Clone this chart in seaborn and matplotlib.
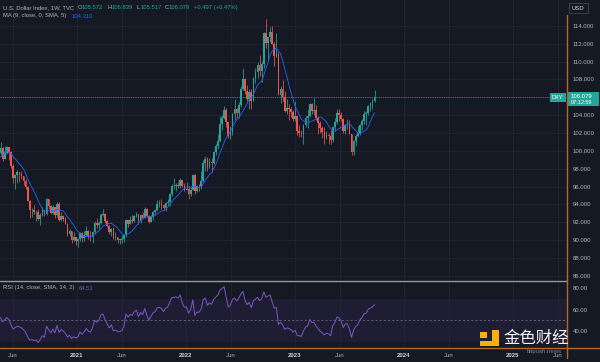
import numpy as np
import pandas as pd
import matplotlib
matplotlib.use("Agg")
import matplotlib.pyplot as plt
import matplotlib.dates as mdates
from matplotlib.patches import Rectangle
from matplotlib.lines import Line2D
import seaborn as sns

# ---------------- data (weekly DXY, weeks starting Monday) ----------------
FIRST_WEEK = "2019-09-30"
first_open = 99.10

closes = [
    # 2019 (from 30 Sep)
    98.83, 98.30, 97.28, 97.83, 97.24, 98.35, 98.00, 98.27, 98.27, 97.70, 97.18, 97.66, 96.92,
    # 2020
    96.84, 97.36, 97.61, 97.88, 97.39, 98.69, 99.13, 99.26, 98.13, 95.99, 98.74, 102.82, 98.37,
    100.59, 99.52, 99.76, 100.37, 99.07, 99.73, 100.39, 99.86, 98.34, 96.93, 97.33, 97.65, 97.43,
    97.17, 96.66, 95.90, 94.44, 93.35, 93.43, 93.10, 93.20, 92.37, 92.80, 93.33, 92.93, 94.64,
    93.85, 93.06, 93.69, 92.77, 94.04, 92.23, 92.76, 92.39, 91.79, 90.70, 90.98, 90.02, 90.30, 89.94,
    # 2021
    90.10, 90.77, 90.23, 90.58, 91.04, 90.48, 90.36, 90.88, 91.97, 91.67, 91.92, 92.77, 92.95,
    92.16, 91.56, 90.86, 91.28, 90.22, 90.32, 90.01, 90.03, 90.13, 90.55, 92.23, 91.85, 92.23,
    92.12, 92.69, 92.90, 92.17, 92.78, 92.52, 93.50, 92.68, 92.04, 92.58, 93.20, 93.33, 94.04,
    94.07, 93.96, 93.64, 94.12, 94.32, 95.13, 96.03, 96.08, 96.17, 96.08, 96.70, 96.02, 95.67,
    # 2022
    95.75, 95.17, 95.65, 97.27, 95.48, 96.07, 96.04, 96.62, 98.66, 99.13, 98.23, 98.80, 98.63,
    99.84, 100.50, 101.12, 103.00, 103.66, 104.56, 103.20, 101.67, 102.16, 104.15, 104.69, 104.20, 105.14,
    106.90, 108.10, 106.69, 105.85, 106.62, 105.64, 108.16, 108.82, 109.60, 109.00, 109.76, 113.19, 112.12,
    112.80, 113.31, 111.99, 110.66, 110.81, 106.30, 106.92, 106.00, 104.51, 104.85, 104.70, 104.31, 103.52,
    # 2023
    103.89, 102.20, 102.01, 101.92, 102.92, 103.63, 103.86, 105.21, 104.52, 104.58, 103.72, 103.11, 102.51,
    102.08, 101.55, 101.82, 101.66, 101.22, 102.68, 103.20, 104.21, 104.02, 103.56, 102.28, 102.88, 102.91,
    101.94, 99.91, 101.08, 101.67, 102.02, 102.85, 103.38, 104.09, 104.24, 105.08, 105.32, 105.58, 106.079,
]

highs = [
    99.67, 99.14, 98.40, 97.93, 98.07, 98.45, 98.45, 98.38, 98.54, 98.31, 97.82, 97.70, 97.72,
    97.02, 97.58, 97.66, 97.98, 98.19, 98.71, 99.25, 99.91, 99.41, 98.20, 98.98, 103.00, 102.99,
    100.93, 100.86, 100.26, 100.94, 100.40, 100.54, 100.56, 100.12, 99.97, 98.54, 97.39, 97.86, 97.54,
    97.76, 97.17, 96.90, 96.05, 94.51, 93.65, 93.99, 93.40, 93.50, 92.99, 93.66, 93.37, 94.74,
    94.66, 93.99, 93.90, 93.73, 94.30, 94.30, 93.21, 92.83, 92.57, 91.91, 91.22, 91.03, 90.89, 90.32,
    90.26, 90.95, 90.90, 91.01, 91.60, 91.19, 91.08, 91.07, 92.19, 92.51, 92.10, 93.02, 93.44,
    93.05, 92.21, 91.65, 91.35, 91.43, 90.91, 90.40, 90.23, 90.63, 90.63, 92.41, 92.13, 92.74,
    92.83, 92.84, 93.19, 92.93, 92.89, 93.19, 93.73, 93.59, 92.81, 92.84, 93.26, 93.50, 94.50,
    94.45, 94.56, 94.03, 94.29, 94.64, 95.27, 96.27, 96.94, 96.44, 96.51, 96.91, 96.78, 96.41,
    96.47, 96.02, 95.92, 97.44, 97.38, 96.16, 96.32, 97.74, 98.94, 99.42, 99.29, 99.17, 99.23,
    99.99, 100.76, 101.86, 103.93, 104.07, 105.01, 104.85, 103.21, 102.74, 104.24, 105.79, 104.79, 105.42,
    107.27, 109.29, 108.15, 107.43, 106.93, 106.93, 108.27, 109.27, 109.99, 110.79, 110.04, 113.33, 114.78,
    112.80, 113.88, 113.95, 112.21, 113.15, 111.07, 107.26, 107.99, 106.75, 105.81, 105.25, 104.90, 104.56,
    105.63, 103.95, 102.90, 102.36, 103.00, 103.96, 104.67, 105.36, 105.36, 105.88, 105.10, 103.89, 103.40,
    102.78, 102.62, 102.18, 102.05, 102.39, 102.75, 103.63, 104.70, 104.70, 104.40, 103.66, 102.99, 103.54,
    103.46, 101.89, 101.19, 101.84, 102.84, 103.04, 103.59, 104.44, 104.44, 105.16, 105.43, 105.78, 106.839,
]

lows = [
    98.68, 98.25, 97.25, 97.13, 97.11, 97.22, 97.88, 97.82, 98.15, 97.37, 96.70, 97.02, 96.90,
    96.14, 96.52, 96.94, 97.28, 97.32, 97.32, 98.55, 99.14, 97.89, 94.65, 94.63, 97.72, 98.27,
    98.04, 99.36, 98.81, 99.55, 98.82, 99.06, 99.60, 99.00, 98.13, 96.43, 95.71, 96.35, 96.46,
    96.80, 96.23, 95.72, 94.35, 92.52, 92.55, 92.88, 92.13, 92.27, 91.75, 92.70, 92.70, 92.85,
    93.52, 92.96, 92.93, 92.47, 92.55, 92.13, 92.12, 92.13, 91.76, 90.50, 90.42, 89.72, 89.94, 89.42,
    89.21, 89.92, 89.84, 89.95, 90.48, 90.12, 89.95, 89.68, 90.64, 91.37, 91.30, 91.79, 92.68,
    91.96, 91.48, 90.67, 90.42, 90.10, 89.98, 89.65, 89.53, 89.67, 89.81, 90.41, 91.51, 91.76,
    91.87, 92.00, 92.56, 91.78, 91.94, 92.47, 92.47, 92.61, 91.94, 91.98, 92.27, 92.89, 93.24,
    93.72, 93.50, 93.50, 93.28, 93.87, 93.87, 94.94, 95.75, 95.52, 95.82, 95.86, 95.97, 95.54,
    95.62, 94.63, 94.95, 95.67, 95.14, 95.37, 95.48, 95.68, 96.51, 97.73, 97.71, 98.11, 97.68,
    98.55, 99.53, 100.21, 101.03, 102.35, 103.52, 102.65, 101.43, 101.30, 101.82, 103.41, 103.66, 103.64,
    104.88, 106.87, 106.35, 105.57, 104.64, 104.64, 105.67, 107.58, 108.16, 108.36, 107.68, 109.27, 111.55,
    110.06, 112.21, 111.94, 109.54, 110.50, 106.27, 105.34, 105.61, 104.37, 104.12, 103.45, 103.80, 103.40,
    103.38, 101.79, 101.51, 101.50, 100.82, 102.62, 102.60, 103.83, 104.10, 104.05, 103.42, 101.92, 101.96,
    101.43, 100.79, 101.38, 100.79, 100.79, 101.03, 102.21, 102.96, 103.38, 103.32, 102.00, 101.91, 102.48,
    101.87, 99.57, 99.58, 100.55, 101.53, 101.74, 102.36, 103.01, 102.93, 104.07, 104.42, 104.67, 105.517,
]

price_ticks = [86, 88, 90, 92, 94, 96, 98, 100, 102, 104, 106, 108, 110, 112, 114]
rsi_ticks = [40, 60, 80]
time_ticks = ["2020-06-01", "2021-01-01", "2021-06-01", "2022-01-01", "2022-06-01", "2023-01-01",
              "2023-06-01", "2024-01-01", "2024-06-01", "2025-01-01", "2025-06-01"]
time_labels = ["Jun", "2021", "Jun", "2022", "Jun", "2023", "Jun", "2024", "Jun", "2025", "Jun"]

last_price = 106.079
header_vals = ["105.572", "106.839", "105.517", "106.079"]
header_change = "+0.497 (+0.47%)"
ma_value = "104.310"
rsi_value = "64.51"
countdown = "07:12:59"

# ---------------- style ----------------
sns.set_theme(style="dark")
plt.rcParams["font.family"] = ["Liberation Sans", "DejaVu Sans"]

BG = "#151924"
GRID = "#222632"
TXT = "#b2b5be"
UP = "#26a69a"
DOWN = "#ef5350"
MA_C = "#2962ff"
RSI_C = "#7e57c2"
BAND = "#1f1d34"
ORANGE = "#b8652c"

W, H = 600, 362
fig = plt.figure(figsize=(6, 3.62), dpi=100, facecolor=BG)


def rect(x0, y0, x1, y1):
    return [x0 / W, 1 - y1 / H, (x1 - x0) / W, (y1 - y0) / H]


def px(x, y):
    return x / W, 1 - y / H


ax = fig.add_axes(rect(0, 0, 567, 279))
axr = fig.add_axes(rect(0, 282, 567, 347), sharex=ax)
for a in (ax, axr):
    a.set_facecolor(BG)
    for s in a.spines.values():
        s.set_visible(False)

# ---------------- frame ----------------
n = len(closes)
df = pd.DataFrame({
    "date": pd.date_range(FIRST_WEEK, periods=n, freq="7D"),
    "close": closes,
    "high": highs,
    "low": lows,
})
df["open"] = [first_open] + closes[:-1]
df.loc[n - 1, "open"] = float(header_vals[0])
df["high"] = np.maximum(df["high"], np.maximum(df["open"], df["close"]))
df["low"] = np.minimum(df["low"], np.minimum(df["open"], df["close"]))
df["ma"] = df["close"].rolling(9).mean()
delta = df["close"].diff()
gain = delta.clip(lower=0)
loss = (-delta).clip(lower=0)
rs = gain.ewm(alpha=1 / 14, adjust=False).mean() / loss.ewm(alpha=1 / 14, adjust=False).mean()
df["rsi"] = 100 - 100 / (1 + rs)
df.loc[:13, "rsi"] = np.nan

x0 = mdates.date2num(pd.Timestamp("2020-04-18"))
x1 = mdates.date2num(pd.Timestamp("2025-07-01"))
tick_nums = [mdates.date2num(pd.Timestamp(t)) for t in time_ticks]

# ---------------- price panel ----------------
ax.set_ylim(85.65, 116.9)
ax.set_yticks(price_ticks)
ax.set_xticks(tick_nums)
ax.grid(True, color=GRID, lw=0.6)
ax.set_axisbelow(True)

up_mask = df["close"] >= df["open"]
colors = np.where(up_mask, UP, DOWN)
dn = mdates.date2num(df["date"])
ax.vlines(dn, df["low"], df["high"], colors=colors, lw=0.55, zorder=2)
ax.bar(dn, np.maximum((df["close"] - df["open"]).abs(), 0.08),
       bottom=np.minimum(df["open"], df["close"]), width=5.6,
       color=colors, linewidth=0, zorder=3)
sns.lineplot(x=dn, y=df["ma"].values, ax=ax, color=MA_C, lw=0.6, legend=False, zorder=4)
ax.axhline(last_price, color=UP, lw=0.6, ls=(0, (1.5, 1.2)), alpha=0.8, zorder=1)

ax.yaxis.tick_right()
# the 106 label sits under the live price box, as in the reference
ax.set_yticklabels(["" if v == 106 else f"{v:.3f}" for v in price_ticks])
ax.tick_params(axis="y", length=0, pad=4, labelsize=4.3, labelcolor=TXT)
ax.tick_params(axis="x", length=0, labelbottom=False)
ax.set_xlim(x0, x1)
ax.set_xlabel("")
ax.set_ylabel("")

# ---------------- RSI panel ----------------
axr.set_ylim(25.1, 85.6)
axr.axhspan(30, 70, color=BAND, lw=0, zorder=0)
axr.axhline(50, color="#787b86", lw=0.5, ls=(0, (3, 3)), zorder=1)
axr.set_xticks(tick_nums)
axr.grid(True, axis="x", color=GRID, lw=0.6)
axr.set_axisbelow(True)
sns.lineplot(x=dn, y=df["rsi"].values, ax=axr, color=RSI_C, lw=0.7, legend=False, zorder=3)
axr.yaxis.tick_right()
axr.set_yticks(rsi_ticks)
axr.set_yticklabels([f"{v:.2f}" for v in rsi_ticks])
axr.tick_params(axis="y", length=0, pad=4, labelsize=4.3, labelcolor=TXT)
axr.set_xticklabels(time_labels)
axr.tick_params(axis="x", length=0, pad=4.5, labelsize=4.3, labelcolor=TXT)
for lab in axr.get_xticklabels():
    if lab.get_text().isdigit():
        lab.set_fontweight("bold")
        lab.set_color("#d1d4dc")
axr.set_xlim(x0, x1)
axr.set_xlabel("")
axr.set_ylabel("")

# ---------------- separators ----------------
fig.add_artist(Line2D([0, 567 / W], [1 - 280.5 / H] * 2, color="#9598a1", lw=1.0))
fig.add_artist(Line2D([567 / W, 567 / W], [1 - 15 / H, 1 - 358 / H], color=ORANGE, lw=1.0))
fig.add_artist(Line2D([0, 1], [1 - 347.5 / H] * 2, color=ORANGE, lw=1.0))

# ---------------- header texts ----------------
FS = 4.2


def t(x, y, s, c=TXT, fs=FS, **kw):
    fig.text(*px(x, y), s, color=c, fontsize=fs, va="center", ha="left", **kw)


t(3, 7.5, "U.S. Dollar Index, 1W, TVC")
for lx, letter, val in zip([77.5, 107, 136.5, 164.5], "OHLC", header_vals):
    t(lx, 7.5, letter)
    t(lx + 4.3, 7.5, val, c=UP)
t(193.5, 7.5, header_change, c=UP)
t(3, 16, "MA (9, close, 0, SMA, 5)")
t(72, 16, ma_value, c=MA_C)
t(3, 288, "RSI (14, close, SMA, 14, 2)")
t(78.5, 288, rsi_value, c=RSI_C)

# USD box
fig.add_artist(Rectangle(px(569, 13), 19 / W, 10 / H, facecolor=BG, edgecolor="#434651", lw=0.6))
t(572, 8, "USD", c="#d1d4dc")

# DXY + price label
fig.add_artist(Rectangle(px(550, 102), 16 / W, 9 / H, facecolor=UP, edgecolor="none"))
t(552, 97.5, "DXY", c="white", fs=4.0)
fig.add_artist(Rectangle(px(568, 106), 31 / W, 14 / H, facecolor=UP, edgecolor="none"))
t(571, 96.3, f"{last_price:.3f}", c="white", fs=4.3)
t(571, 102.3, countdown, c="white", fs=4.0)

# ---------------- watermark ----------------
YEL = "#f5b20a"
fig.add_artist(Rectangle(px(480, 338), 7 / W, 6 / H, facecolor=YEL, edgecolor="none"))
fig.add_artist(Rectangle(px(492, 346), 7 / W, 16 / H, facecolor=YEL, edgecolor="none"))
fig.add_artist(Rectangle(px(480, 346), 19 / W, 5 / H, facecolor=YEL, edgecolor="none"))
fig.text(*px(503, 338.5), "金色财经", color="white", fontsize=11.8, va="center", ha="left",
         family=["Noto Sans CJK SC", "DejaVu Sans"], alpha=0.95)
fig.text(*px(527, 351), "bitpush.news", color="#9a9ca3", fontsize=4.3, va="center", ha="left", alpha=0.8)

fig.savefig("out.png", dpi=100, facecolor=BG)
